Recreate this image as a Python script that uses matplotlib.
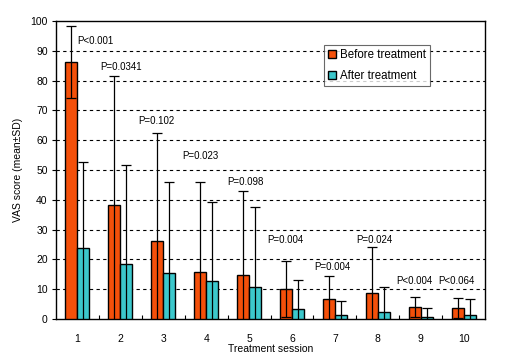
import matplotlib.pyplot as plt
import numpy as np

plt.rcParams["font.family"] = ["Liberation Sans", "DejaVu Sans"]

sessions = ["1", "2", "3", "4", "5", "6", "7", "8", "9", "10"]
before_mean = [86.3, 38.3, 26.1, 15.7, 14.7, 10.1, 6.7, 8.7, 4.0, 3.7]
before_sd = [12.0, 43.2, 36.2, 30.2, 28.2, 9.4, 7.6, 15.4, 3.3, 3.3]
after_mean = [23.7, 18.4, 15.3, 12.6, 10.6, 3.2, 1.2, 2.2, 0.6, 1.2]
after_sd = [29.0, 33.3, 30.6, 26.6, 26.9, 9.9, 4.7, 8.4, 3.1, 5.4]
p_labels = ["P<0.001", "P=0.0341", "P=0.102", "P=0.023", "P=0.098",
            "P=0.004", "P=0.004", "P=0.024", "P<0.004", "P<0.064"]
p_x = [0.0, 0.54, 1.42, 2.44, 3.49, 4.43, 5.51, 6.51, 7.44, 8.42]
p_y = [93.4, 84.7, 66.4, 54.7, 46.0, 26.5, 17.3, 26.5, 12.9, 12.9]

orange = "#F4500A"
teal = "#3CC8CC"

fig = plt.figure(figsize=(5.06, 3.62), dpi=100)
ax = fig.add_axes([0.1107, 0.1188, 0.8478, 0.8232])

x = np.arange(len(sessions))
w = 0.28
err_kw = dict(ecolor="black", elinewidth=0.9, capsize=3.5, capthick=0.9)
ax.bar(x - w / 2, before_mean, w, yerr=before_sd, color=orange,
       edgecolor="black", linewidth=1, label="Before treatment",
       error_kw=err_kw, zorder=3)
ax.bar(x + w / 2, after_mean, w, yerr=after_sd, color=teal,
       edgecolor="black", linewidth=1, label="After treatment",
       error_kw=err_kw, zorder=3)

for px, py, s in zip(p_x, p_y, p_labels):
    ax.text(px, py, s, fontsize=7, va="center", ha="left", zorder=4)

ax.set_xlim(-0.5, len(sessions) - 0.5)
ax.set_ylim(0, 100)
ax.set_yticks(np.arange(0, 101, 10))
ax.set_xticks(x)
ax.set_xticklabels(sessions)
ax.set_xticks(np.arange(0.5, len(sessions) - 1, 1), minor=True)
ax.tick_params(axis="x", which="major", length=0, pad=11, labelsize=7.5)
ax.tick_params(axis="x", which="minor", direction="in", length=3, width=0.8)
ax.tick_params(axis="y", length=3, width=0.8, pad=3, labelsize=7.5)

for yv in range(10, 100, 10):
    ax.axhline(yv, color="black", lw=0.8, ls=(0, (3, 3)), zorder=1)

for sp in ax.spines.values():
    sp.set_linewidth(1)

ax.set_xlabel("Treatment session", fontsize=7.5, labelpad=0)
ax.set_ylabel("VAS score (mean±SD)", fontsize=7.5, labelpad=5)

leg = ax.legend(loc="upper left", bbox_to_anchor=(0.625, 0.918),
                fontsize=8.3, frameon=True, fancybox=False, handlelength=0.7,
                handleheight=0.7, handletextpad=0.3, borderpad=0.35,
                labelspacing=0.75, borderaxespad=0)
leg.get_frame().set_edgecolor("#444444")
leg.get_frame().set_linewidth(0.8)

fig.savefig("out.png", dpi=100)
